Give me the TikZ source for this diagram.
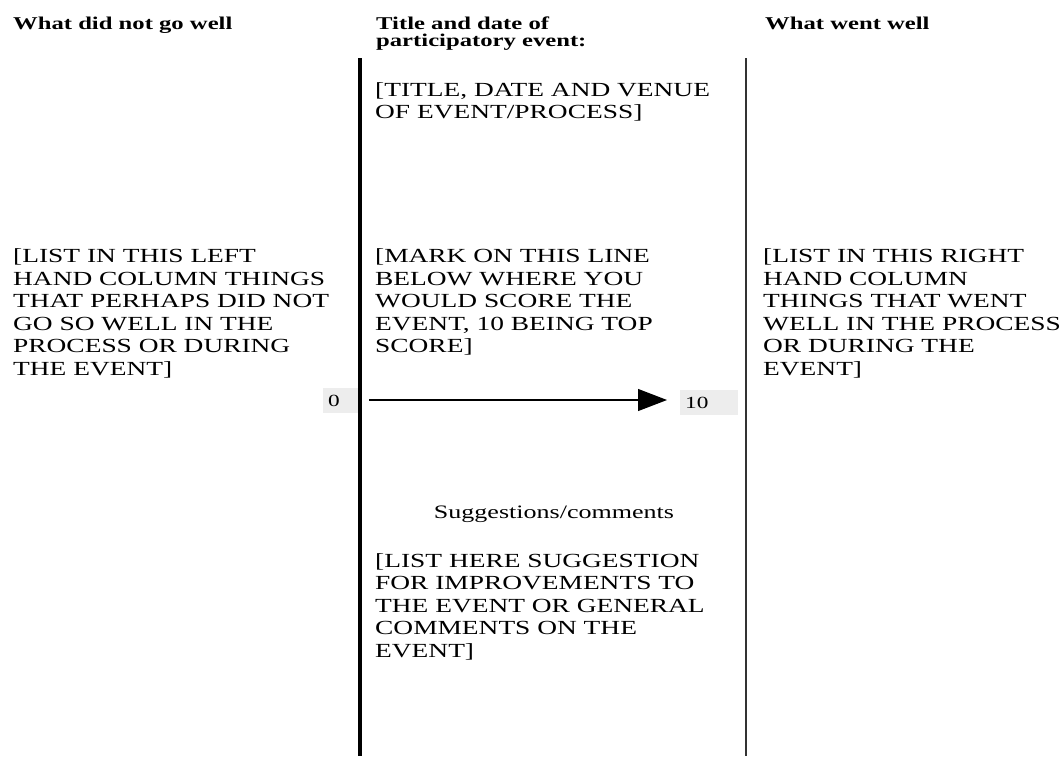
\documentclass[tikz,border=0pt]{standalone}
\usepackage{fontspec}
\setmainfont[FakeStretch=1.37]{Liberation Serif}
\usetikzlibrary{arrows.meta}

\begin{document}
\begin{tikzpicture}[x=1pt,y=-1pt,
  head/.style={anchor=base west,inner sep=0,align=left,font=\fontsize{18}{17}\selectfont\bfseries},
  body/.style={anchor=base west,inner sep=0,align=left,font=\fontsize{20}{22.5}\selectfont},
  scorebox/.style={anchor=north west,fill=black!7,inner sep=0,minimum width=#1,minimum height=25pt},
  scorenum/.style={anchor=base west,inner sep=0,font=\fontsize{17}{17}\selectfont}]
\useasboundingbox (0,0) rectangle (1063,756);
\node[head] (notwell) at (13,29) {What did not go well};
\node[head] (eventtitle) at (376,46) {Title and date of\\participatory event:};
\node[head] (wentwell) at (765,29) {What went well};
\node[body] (venue) at (375,118.5) {[TITLE, DATE AND VENUE\\OF EVENT/PROCESS]};
\node[body] (leftlist) at (13,375.1) {[LIST IN THIS LEFT\\HAND COLUMN THINGS\\THAT PERHAPS DID NOT\\GO SO WELL IN THE\\PROCESS OR DURING\\THE EVENT]};
\node[body] (mark) at (375,352.6) {[MARK ON THIS LINE\\BELOW WHERE YOU\\WOULD SCORE THE\\EVENT, 10 BEING TOP\\SCORE]};
\node[body] (rightlist) at (763,375.1) {[LIST IN THIS RIGHT\\HAND COLUMN\\THINGS THAT WENT\\WELL IN THE PROCESS\\OR DURING THE\\EVENT]};
\node[scorebox=37pt] (zerobox) at (323,388) {};
\node[scorenum] (zero) at (328,406) {0};
\node[scorebox=58pt] (tenbox) at (680,390) {};
\node[scorenum] (ten) at (685,408) {10};
\node[anchor=base,inner sep=0,font=\fontsize{19}{19}\selectfont] (sugg) at (554,518) {Suggestions/comments};
\node[body] (sugglist) at (375,657) {[LIST HERE SUGGESTION\\FOR IMPROVEMENTS TO\\THE EVENT OR GENERAL\\COMMENTS ON THE\\EVENT]};
\coordinate (lefttop) at (360,58);
\coordinate (leftbot) at (360,756);
\coordinate (righttop) at (746,58);
\coordinate (rightbot) at (746,756);
\coordinate (scorestart) at (369,400);
\coordinate (scoreend) at (667,400);
\draw[line width=3.2pt] (lefttop) -- (leftbot);
\draw[line width=1.8pt,black!80] (righttop) -- (rightbot);
\draw[line width=1.2pt,-{Triangle[length=29pt,width=22pt]}] (scorestart) -- (scoreend);
\end{tikzpicture}
\end{document}
